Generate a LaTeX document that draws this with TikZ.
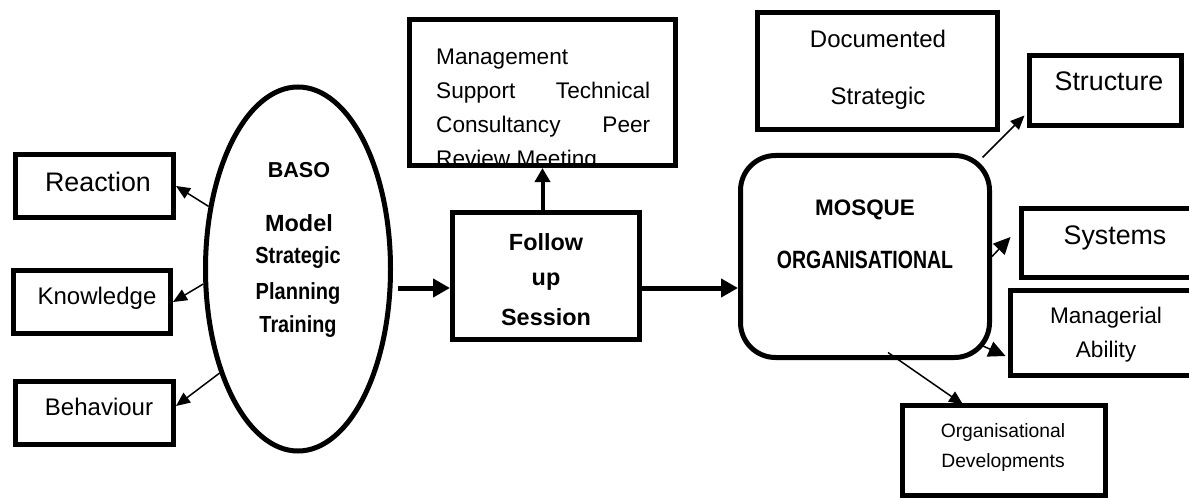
\documentclass[tikz,border=0pt]{standalone}
\usepackage{fontspec}
\setmainfont{Liberation Sans}
\usetikzlibrary{arrows.meta,shapes.geometric}
\begin{document}
\begin{tikzpicture}[x=1pt,y=-1pt,
 box/.style={draw, line width=5pt, inner sep=0pt, rectangle},
 lbl/.style={inner sep=0pt, anchor=base},
 thinarr/.style={line width=1.5pt, -{Triangle[length=14pt,width=12pt]}},
 bigthinarr/.style={line width=1.5pt, -{Triangle[length=17pt,width=16pt]}},
 thickarr/.style={line width=5pt, -{Triangle[length=17pt,width=18pt]}},
 f26/.style={font=\fontsize{26.8}{30}\selectfont},
 f24/.style={font=\fontsize{24}{28}\selectfont},
 f22/.style={font=\fontsize{22.6}{27}\selectfont},
 f19/.style={font=\fontsize{19.3}{23}\selectfont},
 b20/.style={font=\bfseries\fontsize{23.3}{27}\selectfont},
 b23/.style={font=\bfseries\fontsize{23.4}{28}\selectfont},
]
\clip (0,0) rectangle (1189,500);
\fill[white] (0,0) rectangle (1189,500);

% left boxes
\node[box, minimum width=158pt, minimum height=63pt] (react) at (94.5,186) {};
\node[lbl,f26] (react-t) at (98,192) {Reaction};
\node[box, minimum width=157pt, minimum height=63pt] (know) at (92,302) {};
\node[lbl,f24] (know-t) at (97,304) {Knowledge};
\node[box, minimum width=158pt, minimum height=63pt] (beh) at (94.5,413) {};
\node[lbl,f24] (beh-t) at (99,415) {Behaviour};

% ellipse
\node[draw, ellipse, line width=5pt, inner sep=0pt, minimum width=185pt, minimum height=364pt] (ell) at (298,269) {};
\node[lbl,font=\bfseries\fontsize{21.6}{25}\selectfont] (e1) at (299,178) {BASO};
\node[lbl,b23] (e2) at (299,231) {Model};
\node[lbl,b20] (e3) at (298,263) {\scalebox{0.855}[1]{Strategic}};
\node[lbl,b20] (e4) at (298,299) {\scalebox{0.86}[1]{Planning}};
\node[lbl,b20] (e5) at (298,332) {\scalebox{0.85}[1]{Training}};

% management box
\node[lbl,anchor=base west,f22] (m1) at (436,65) {Management};
\node[lbl,anchor=base west,f22] (m2) at (436,99) {\hbox to 214pt{Support\hfill Technical}};
\node[lbl,anchor=base west,f22] (m3) at (436,133) {\hbox to 214pt{Consultancy\hfill Peer}};
\node[lbl,anchor=base west,f22] (m4) at (436,167) {Review Meeting};
\fill[white] (405,168) rectangle (680,180);
\node[box, minimum width=266pt, minimum height=146pt] (mgmt) at (542.5,92.5) {};

% follow up
\node[box, minimum width=187pt, minimum height=127pt] (fol) at (546,276) {};
\node[lbl,b23] (f1) at (546,250) {Follow};
\node[lbl,b23] (f2) at (546,285) {up};
\node[lbl,b23] (f3) at (546,325) {Session};

% mosque
\node[box, rounded corners=35pt, minimum width=249pt, minimum height=202pt] (mos) at (865,256.5) {};
\node[lbl,font=\bfseries\fontsize{22.4}{26}\selectfont] (o1) at (865,215) {MOSQUE};
\node[lbl,font=\bfseries\fontsize{25}{29}\selectfont] (o2) at (865,268) {\scalebox{0.78}[1]{ORGANISATIONAL}};

% documented
\node[box, minimum width=240pt, minimum height=117pt] (doc) at (877.5,71) {};
\node[lbl,f24] (d1) at (878,48) {Documented};
\node[lbl,f24] (d2) at (878,105) {Strategic};

% right boxes
\node[box, minimum width=152pt, minimum height=70pt] (str) at (1105.5,90.5) {};
\node[lbl,f26] (str-t) at (1109,91) {Structure};
\node[box, minimum width=173.5pt, minimum height=69pt] (sys) at (1108.25,243) {};
\node[lbl,f26] (sys-t) at (1115,244) {Systems};
\node[box, minimum width=184.5pt, minimum height=85pt] (man) at (1102.75,333) {};
\node[lbl,f22] (man1) at (1106,323) {Managerial};
\node[lbl,f22] (man2) at (1106,357) {Ability};
\node[box, minimum width=203pt, minimum height=90pt] (org) at (1004,450.5) {};
\node[lbl,f19] (org1) at (1003,437) {Organisational};
\node[lbl,f19] (org2) at (1003,467) {Developments};

% connectors
\draw[thinarr] (ell.145) -- (react.east);
\draw[thinarr] (ell.189) -- (know.east);
\draw[thinarr] (ell.233) -- ([yshift=7pt]beh.east);
\coordinate (a1) at (398,288);
\draw[thickarr] (a1) -- (a1 -| fol.west);
\draw[thickarr] (fol.east |- a1) -- (mos.west |- a1);
\draw[line width=4pt, -{Triangle[length=14pt,width=15pt]}] (mgmt.south |- fol.north) -- (mgmt.south);
\draw[thinarr] ([xshift=-9.5pt,yshift=-4.5pt]mos.north east) -- ([xshift=-2.5pt,yshift=12.5pt]str.south west);
\draw[bigthinarr] (mos.east) -- ([xshift=-8.5pt,yshift=6pt]sys.west);
\draw[bigthinarr] ([xshift=-12.5pt,yshift=15.5pt]mos.south east) -- ([xshift=-2.5pt,yshift=-23pt]man.west);
\draw[thinarr] ([xshift=23pt,yshift=7.5pt]mos.south) -- ([xshift=-41pt,yshift=-1.5pt]org.north);
\end{tikzpicture}
\end{document}
